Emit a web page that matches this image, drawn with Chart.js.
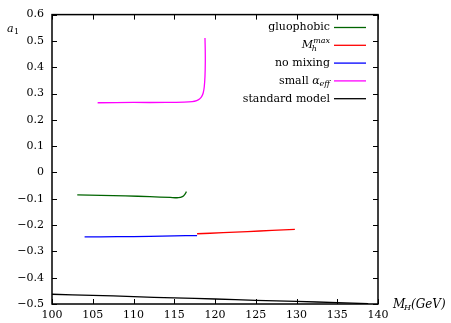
<!DOCTYPE html>
<html>
<head>
<meta charset="utf-8">
<script src="https://cdn.jsdelivr.net/npm/chart.js@4"></script>
<style>
  html, body { margin: 0; padding: 0; background: #fff; }
  #wrap { width: 451px; height: 323px; }
</style>
</head>
<body>
<div id="wrap"><canvas id="a1Chart" width="451" height="323"></canvas></div>
<script>
// Data
const xTicks = [100, 105, 110, 115, 120, 125, 130, 135, 140];
const yTicks = [-0.5, -0.4, -0.3, -0.2, -0.1, 0, 0.1, 0.2, 0.3, 0.4, 0.5, 0.6];

const mhGluophobic = [103.1, 106, 109, 112, 114.5, 115.5, 116.0, 116.3, 116.5];
const a1Gluophobic = [-0.085, -0.087, -0.089, -0.092, -0.095, -0.096, -0.092, -0.083, -0.073];

const mhMaxMix = [117.8, 121, 124, 127, 129.8];
const a1MaxMix = [-0.233, -0.229, -0.225, -0.220, -0.216];

const mhNoMix = [104.0, 108, 112, 115, 117.8];
const a1NoMix = [-0.245, -0.244, -0.243, -0.241, -0.240];

const mhSmallAlpha = [105.6, 110, 114, 116.2, 117.2, 117.75, 118.1, 118.36, 118.55, 118.68, 118.77, 118.81, 118.80, 118.77];
const a1SmallAlpha = [0.265, 0.266, 0.266, 0.267, 0.269, 0.273, 0.279, 0.288, 0.302, 0.325, 0.365, 0.420, 0.470, 0.511];

const mhStandard = [100, 105, 110, 115, 120, 125, 130, 135, 138.8];
const a1Standard = [-0.463, -0.467, -0.472, -0.477, -0.481, -0.486, -0.490, -0.495, -0.499];

const serif = '"DejaVu Serif", "Liberation Serif", serif';

const toPoints = (xs, ys) => xs.map((x, i) => ({ x: x, y: ys[i] }));

const series = [
  { label: 'gluophobic', xs: mhGluophobic, ys: a1Gluophobic, color: '#006400' },
  { label: 'Mhmax', xs: mhMaxMix, ys: a1MaxMix, color: '#ff0000' },
  { label: 'no mixing', xs: mhNoMix, ys: a1NoMix, color: '#0000ff' },
  { label: 'small alpha', xs: mhSmallAlpha, ys: a1SmallAlpha, color: '#ff00ff' },
  { label: 'standard model', xs: mhStandard, ys: a1Standard, color: '#000000' }
];

// draws text pieces {t, italic, shift, size} right-aligned at xRight
const drawRich = (ctx, parts, xRight, y) => {
  const fontOf = p => (p.italic ? 'italic ' : '') + (p.size || 11) + 'px ' + serif;
  let total = 0;
  parts.forEach(p => {
    ctx.font = fontOf(p);
    total += ctx.measureText(p.t).width;
  });
  let x = xRight - total;
  parts.forEach(p => {
    ctx.font = fontOf(p);
    ctx.fillText(p.t, x, y + (p.shift || 0));
    x += ctx.measureText(p.t).width;
  });
  return xRight - total;
};

const legendText = {
  'gluophobic': [{ t: 'gluophobic' }],
  'Mhmax': [{ t: 'M', italic: true }, { t: 'max', italic: true, shift: -4, size: 8 }],
  'no mixing': [{ t: 'no mixing' }],
  'small alpha': [{ t: 'small ' }, { t: 'α', italic: true }, { t: 'eff', italic: true, shift: 3, size: 8 }],
  'standard model': [{ t: 'standard model' }]
};

const framePlugin = {
  id: 'frame',
  afterDraw: (chart) => {
    const ctx = chart.ctx;
    const area = chart.chartArea;
    const xs = chart.scales.x;
    const ys = chart.scales.y;
    ctx.save();
    ctx.strokeStyle = '#000';
    ctx.lineWidth = 1.5;
    ctx.strokeRect(area.left, area.top, area.right - area.left, area.bottom - area.top);
    ctx.lineWidth = 1;
    ctx.beginPath();
    xTicks.forEach(v => {
      const px = Math.round(xs.getPixelForValue(v)) + 0.5;
      ctx.moveTo(px, area.bottom); ctx.lineTo(px, area.bottom - 5);
      ctx.moveTo(px, area.top); ctx.lineTo(px, area.top + 5);
    });
    yTicks.forEach(v => {
      const py = Math.round(ys.getPixelForValue(v)) + 0.5;
      ctx.moveTo(area.left, py); ctx.lineTo(area.left + 5, py);
      ctx.moveTo(area.right, py); ctx.lineTo(area.right - 5, py);
    });
    ctx.stroke();

    // axis titles
    ctx.fillStyle = '#000';
    ctx.textBaseline = 'middle';
    ctx.textAlign = 'left';
    ctx.font = 'italic 11px ' + serif;
    ctx.fillText('a', 7, 29);
    ctx.font = '8px ' + serif;
    ctx.fillText('1', 14, 32);
    ctx.font = 'italic 12px ' + serif;
    ctx.fillText('M', 393, 305);
    ctx.font = 'italic 8px ' + serif;
    ctx.fillText('H', 404, 308);
    ctx.font = 'italic 12px ' + serif;
    ctx.fillText('(GeV)', 411, 305);

    // legend: text right aligned, sample line on the right
    chart.data.datasets.forEach((ds, i) => {
      const y = 27.5 + i * 17.8;
      const left = drawRich(ctx, legendText[ds.label], 330, y);
      if (ds.label === 'Mhmax') {
        ctx.font = 'italic 8px ' + serif;
        ctx.fillText('h', left + 10, y + 4);
      }
      ctx.strokeStyle = ds.borderColor;
      ctx.lineWidth = 1.3;
      ctx.beginPath();
      ctx.moveTo(334, y); ctx.lineTo(366, y);
      ctx.stroke();
    });
    ctx.restore();
  }
};

const formatY = (v) => {
  const r = Math.round(v * 10) / 10;
  if (r === 0) return '0';
  return (r < 0 ? '\u2212' : '') + Math.abs(r).toFixed(1);
};

new Chart(document.getElementById('a1Chart').getContext('2d'), {
  type: 'line',
  data: {
    datasets: series.map(s => ({
      label: s.label,
      data: toPoints(s.xs, s.ys),
      borderColor: s.color,
      backgroundColor: s.color,
      borderWidth: 1.3,
      pointRadius: 0,
      tension: 0.3,
      fill: false
    }))
  },
  options: {
    responsive: false,
    animation: false,
    devicePixelRatio: 1,
    layout: { padding: { left: 0, right: 73, top: 12, bottom: 0 } },
    plugins: {
      legend: { display: false },
      tooltip: { enabled: false }
    },
    scales: {
      x: {
        type: 'linear',
        min: 100,
        max: 140,
        afterBuildTicks: (axis) => { axis.ticks = xTicks.map(v => ({ value: v })); },
        afterFit: (axis) => { axis.height = 19; },
        ticks: {
          color: '#000',
          padding: 5,
          maxRotation: 0,
          font: { family: serif, size: 11 },
          callback: (v) => String(v)
        },
        grid: { display: false, drawTicks: false, tickLength: 0 },
        border: { display: false }
      },
      y: {
        type: 'linear',
        min: -0.5,
        max: 0.6,
        afterBuildTicks: (axis) => { axis.ticks = yTicks.map(v => ({ value: v })); },
        afterFit: (axis) => { axis.width = 52; },
        ticks: {
          color: '#000',
          padding: 8,
          font: { family: serif, size: 11 },
          callback: formatY
        },
        grid: { display: false, drawTicks: false, tickLength: 0 },
        border: { display: false }
      }
    }
  },
  plugins: [framePlugin]
});
</script>
</body>
</html>
